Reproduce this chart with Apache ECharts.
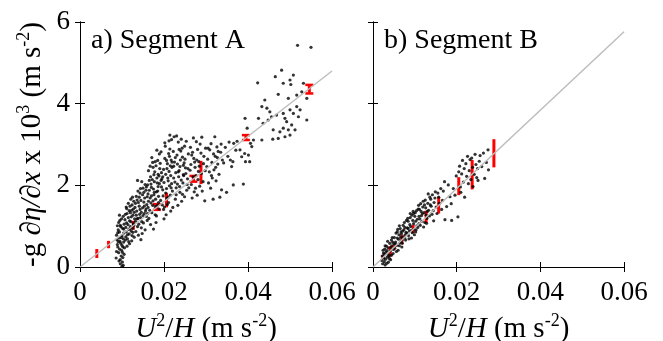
<!DOCTYPE html>
<html><head><meta charset="utf-8">
<script src="https://cdn.jsdelivr.net/npm/echarts@6.0.0/dist/echarts.min.js"></script>
<style>html,body{margin:0;padding:0;background:#fff}#c{width:663px;height:341px}</style>
</head><body><div id="c"></div>
<script>
const xTicks = [0, 0.02, 0.04, 0.06];
const yTicks = [0, 2, 4, 6];
const panelTitles = ['a) Segment A', 'b) Segment B'];

const scatterA = [
[0.0087,0.38],[0.0093,0.71],[0.0101,0.12],[0.0096,1.02],[0.0089,0.55],[0.0104,0.83],[0.0098,0.27],[0.0091,0.91],[0.0102,0.49],[0.0095,0.63],[0.0099,1.18],[0.0086,0.22],[0.0103,0.04],[0.0094,0.44],[0.0100,0.76],[0.0092,1.09],[0.0097,0.58],[0.0105,0.31],[0.0090,0.84],[0.0101,0.95],[0.0088,0.67],[0.0096,0.18],[0.0103,1.24],[0.0094,0.86],[0.0099,0.41],[0.0092,0.35],[0.0104,0.61],[0.0097,0.99],[0.0090,0.49],[0.0102,0.23],[0.0095,1.14],[0.0100,0.53],[0.0087,0.78],[0.0105,1.05],[0.0093,0.15],[0.0098,0.72],[0.0101,0.36],[0.0091,0.62],[0.0104,0.93],[0.0096,0.08],[0.0089,1.01],[0.0103,0.69],[0.0094,1.27],[0.0100,0.02],[0.0106,0.47],
[0.0108,0.66],[0.0115,1.21],[0.0122,0.88],[0.0111,1.43],[0.0127,1.06],[0.0118,0.57],[0.0109,0.97],[0.0124,1.52],[0.0113,0.79],[0.0120,1.33],[0.0129,0.73],[0.0107,1.16],[0.0116,0.92],[0.0126,1.27],[0.0112,0.51],[0.0121,1.11],[0.0128,1.61],[0.0110,0.86],[0.0117,1.38],[0.0123,0.64],[0.0114,1.04],[0.0125,0.95],[0.0119,1.49],[0.0108,1.29],[0.0130,1.18],[0.0113,0.69],[0.0122,1.23],[0.0117,0.81],[0.0127,1.42],[0.0111,1.08],[0.0120,0.99],[0.0124,0.77],[0.0115,1.56],[0.0129,1.34],[0.0109,0.74],[0.0118,1.13],[0.0126,0.85],[0.0112,1.31],[0.0121,1.66],[0.0116,0.62],[0.0128,1.02],[0.0110,1.47],[0.0123,1.39],[0.0119,0.94],[0.0125,1.71],
[0.0132,1.12],[0.0139,1.58],[0.0146,0.96],[0.0152,1.83],[0.0135,1.37],[0.0158,1.24],[0.0141,1.71],[0.0149,1.45],[0.0133,0.87],[0.0155,2.02],[0.0138,1.19],[0.0144,1.92],[0.0151,1.08],[0.0136,1.64],[0.0159,1.53],[0.0142,1.29],[0.0148,0.82],[0.0154,1.69],[0.0131,1.46],[0.0145,1.63],[0.0157,1.88],[0.0137,0.99],[0.0143,1.41],[0.0150,1.26],[0.0134,1.73],[0.0156,1.37],[0.0140,1.05],[0.0147,2.09],[0.0153,1.49],[0.0138,1.86],[0.0160,1.14],[0.0144,1.21],[0.0132,1.56],[0.0149,1.77],[0.0155,0.91],[0.0141,1.49],[0.0136,1.18],[0.0158,1.96],[0.0146,1.34],[0.0152,1.59],[0.0139,0.78],[0.0143,1.81],[0.0157,1.42],[0.0134,1.27],[0.0150,1.93],[0.0147,1.11],[0.0153,1.31],[0.0145,0.67],[0.0160,1.72],[0.0137,2.12],
[0.0162,1.46],[0.0168,2.21],[0.0174,1.62],[0.0181,2.48],[0.0165,1.88],[0.0187,1.73],[0.0171,1.33],[0.0177,2.09],[0.0184,1.51],[0.0163,2.36],[0.0170,1.95],[0.0179,1.28],[0.0186,2.27],[0.0167,1.69],[0.0173,2.56],[0.0182,1.84],[0.0189,2.04],[0.0164,1.19],[0.0176,1.77],[0.0185,2.61],[0.0169,1.57],[0.0178,2.33],[0.0161,2.01],[0.0188,1.42],[0.0172,2.14],[0.0180,1.66],[0.0166,1.39],[0.0183,2.18],[0.0175,1.91],[0.0190,2.41],[0.0168,1.04],[0.0186,1.97],[0.0174,2.44],[0.0162,1.79],[0.0179,1.48],[0.0171,2.68],[0.0187,1.58],[0.0165,2.12],[0.0182,1.25],[0.0177,1.83],[0.0189,2.77],[0.0163,1.61],[0.0184,2.06],[0.0170,1.74],[0.0176,2.26],[0.0181,1.09],[0.0167,2.47],[0.0185,1.86],[0.0173,1.51],[0.0179,2.58],[0.0161,1.31],[0.0188,2.23],[0.0175,0.93],[0.0183,2.86],[0.0169,2.03],
[0.0192,1.63],[0.0199,2.39],[0.0206,1.92],[0.0213,2.71],[0.0195,2.16],[0.0218,2.04],[0.0201,1.47],[0.0208,2.53],[0.0215,1.76],[0.0193,2.82],[0.0204,2.27],[0.0211,1.58],[0.0219,2.44],[0.0197,1.89],[0.0203,2.96],[0.0210,2.11],[0.0216,1.37],[0.0194,2.31],[0.0207,1.68],[0.0214,2.89],[0.0200,2.07],[0.0212,2.34],[0.0198,1.74],[0.0217,2.62],[0.0205,1.28],[0.0191,2.54],[0.0209,2.18],[0.0220,1.86],[0.0196,1.52],[0.0202,2.66],[0.0213,1.99],[0.0218,3.12],[0.0207,2.41],[0.0194,1.96],[0.0216,2.24],[0.0200,1.18],[0.0211,2.78],[0.0204,1.81],[0.0219,2.57],[0.0197,2.21],[0.0214,3.23],[0.0208,1.53],[0.0193,2.12],[0.0215,2.48],[0.0202,3.04],[0.0210,1.71],[0.0206,2.61],[0.0217,1.94],[0.0199,1.41],[0.0212,3.09],
[0.0223,2.18],[0.0231,2.74],[0.0238,1.83],[0.0246,2.49],[0.0227,1.66],[0.0252,2.29],[0.0234,3.06],[0.0241,2.13],[0.0249,1.72],[0.0225,2.57],[0.0236,2.36],[0.0243,2.91],[0.0255,2.02],[0.0229,1.94],[0.0239,2.62],[0.0247,2.24],[0.0222,2.83],[0.0233,1.51],[0.0244,2.69],[0.0251,2.43],[0.0228,2.31],[0.0237,1.97],[0.0258,2.77],[0.0224,3.19],[0.0242,1.61],[0.0249,2.96],[0.0232,2.52],[0.0254,1.88],[0.0226,2.08],[0.0240,2.84],[0.0235,2.21],[0.0257,2.41],[0.0230,3.21],[0.0245,2.06],[0.0221,1.46],[0.0250,2.64],[0.0238,2.46],[0.0253,3.08],[0.0227,2.68],[0.0244,1.78],[0.0234,2.33],[0.0256,2.16],[0.0241,3.13],[0.0229,1.77],[0.0248,2.55],[0.0236,2.88],[0.0259,1.94],[0.0223,2.47],[0.0246,2.26],[0.0232,2.03],
[0.0262,2.37],[0.0268,2.81],[0.0275,1.93],[0.0283,2.58],[0.0265,2.02],[0.0289,2.29],[0.0271,2.66],[0.0279,1.76],[0.0286,3.01],[0.0263,2.93],[0.0274,2.44],[0.0281,2.14],[0.0295,2.71],[0.0267,1.69],[0.0277,3.07],[0.0291,1.86],[0.0269,2.21],[0.0284,2.47],[0.0298,2.36],[0.0273,2.57],[0.0288,2.79],[0.0264,2.51],[0.0280,2.88],[0.0293,2.09],[0.0276,2.24],[0.0297,1.62],[0.0270,3.16],[0.0285,1.98],[0.0290,3.18],[0.0278,2.62],[0.0266,2.74],[0.0294,2.53],[0.0282,2.34],[0.0299,2.91],[0.0272,1.84],
[0.0302,2.46],[0.0309,2.87],[0.0315,2.18],[0.0322,2.71],[0.0306,2.06],[0.0328,2.52],[0.0312,3.02],[0.0319,2.38],[0.0335,2.81],[0.0304,2.64],[0.0317,1.66],[0.0326,2.94],[0.0331,2.27],[0.0308,2.33],[0.0321,3.19],[0.0339,2.62],[0.0314,2.56],[0.0324,2.11],[0.0333,1.71],[0.0311,1.93],[0.0329,2.83],[0.0318,2.77],[0.0337,1.89],[0.0305,2.91],[0.0323,2.44],[0.0336,3.01],[0.0313,2.24],[0.0327,2.68],
[0.0342,2.55],[0.0346,2.93],[0.0349,1.83],[0.0352,2.71],[0.0355,3.06],[0.0358,2.62],[0.0361,2.46],[0.0364,2.58],[0.0366,3.03],[0.0365,2.01],[0.0371,2.86],[0.0374,3.08],[0.0381,2.87],[0.0385,2.70],[0.0389,2.03],[0.0392,2.78],[0.0394,2.58],[0.0393,3.64],[0.0398,3.40],[0.0401,2.74],[0.0404,2.58],[0.0406,3.03],[0.0409,2.95],[0.0413,3.11],
[0.0518,5.43],[0.0550,5.38],[0.0480,4.82],[0.0465,4.66],[0.0508,4.70],[0.0500,4.58],[0.0484,4.50],[0.0502,4.47],[0.0423,4.51],[0.0472,4.23],[0.0440,4.09],[0.0496,4.13],[0.0516,4.21],[0.0528,4.29],[0.0532,4.50],[0.0540,4.13],[0.0433,3.93],[0.0445,3.89],[0.0452,3.80],[0.0456,3.68],[0.0468,3.72],[0.0484,3.76],[0.0488,3.64],[0.0492,3.56],[0.0500,3.85],[0.0508,3.76],[0.0516,3.93],[0.0524,3.85],[0.0520,3.68],[0.0540,3.60],[0.0504,3.48],[0.0496,3.36],[0.0484,3.40],[0.0476,3.31],[0.0460,3.36],[0.0472,3.15],[0.0459,3.13],[0.0488,3.19],[0.0500,3.23],[0.0512,3.36],[0.0448,3.60],[0.0436,3.52],[0.0425,3.64],[0.0433,3.11]
];

const scatterB = [
[0.0021,0.16],[0.0027,0.31],[0.0033,0.09],[0.0024,0.41],[0.0038,0.27],[0.0029,0.05],[0.0045,0.52],[0.0031,0.36],[0.0042,0.18],[0.0026,0.22],[0.0036,0.47],[0.0048,0.33],[0.0023,0.08],[0.0040,0.58],[0.0034,0.24],[0.0047,0.61],[0.0028,0.44],[0.0044,0.29],[0.0037,0.12],[0.0025,0.34],[0.0049,0.43],[0.0032,0.51],[0.0041,0.39],[0.0030,0.19],[0.0046,0.72],[0.0035,0.63],[0.0043,0.48],[0.0022,0.27],[0.0039,0.21],[0.0050,0.57],[0.0027,0.13],[0.0033,0.40],[0.0044,0.66],[0.0036,0.31],[0.0029,0.52],
[0.0052,0.46],[0.0058,0.71],[0.0063,0.52],[0.0071,0.88],[0.0055,0.83],[0.0067,0.62],[0.0076,0.97],[0.0060,0.41],[0.0073,0.74],[0.0054,0.61],[0.0079,0.85],[0.0065,0.94],[0.0057,0.53],[0.0070,0.67],[0.0062,0.79],[0.0075,1.09],[0.0051,0.72],[0.0068,0.81],[0.0078,0.66],[0.0059,0.92],[0.0064,0.59],[0.0072,1.02],[0.0056,0.38],[0.0077,0.79],[0.0061,0.68],[0.0069,0.49],[0.0053,0.57],[0.0074,0.91],[0.0066,0.73],[0.0080,1.14],[0.0058,0.86],[0.0070,0.58],[0.0063,1.01],[0.0076,0.71],[0.0067,0.86],
[0.0082,0.96],[0.0089,1.21],[0.0094,0.84],[0.0101,1.33],[0.0085,0.77],[0.0097,1.06],[0.0106,1.17],[0.0090,0.99],[0.0103,0.91],[0.0084,1.12],[0.0108,1.42],[0.0093,1.27],[0.0087,0.88],[0.0099,0.79],[0.0105,1.01],[0.0081,0.83],[0.0096,1.36],[0.0110,1.24],[0.0088,1.04],[0.0102,1.12],[0.0092,0.71],[0.0107,0.97],[0.0083,1.19],[0.0098,0.93],[0.0109,1.51],[0.0086,0.69],[0.0100,1.24],[0.0095,1.14],[0.0104,1.38],[0.0091,0.89],[0.0110,1.06],[0.0084,0.94],[0.0097,1.31],[0.0102,0.86],[0.0089,1.31],
[0.0112,1.18],[0.0119,1.47],[0.0124,1.09],[0.0131,1.56],[0.0115,1.36],[0.0127,1.27],[0.0136,1.71],[0.0121,0.98],[0.0133,1.39],[0.0114,1.55],[0.0139,1.49],[0.0125,1.64],[0.0117,1.12],[0.0129,1.19],[0.0142,1.77],[0.0111,1.41],[0.0135,1.25],[0.0146,1.58],[0.0122,1.33],[0.0138,1.66],[0.0126,1.45],[0.0144,1.38],[0.0116,1.26],[0.0132,1.79],[0.0148,1.69],[0.0120,1.61],[0.0128,1.07],[0.0141,1.29],[0.0113,1.02],[0.0137,1.52],[0.0123,1.52],[0.0149,1.84],[0.0130,1.36],[0.0145,1.13],[0.0118,1.31],
[0.0151,1.47],[0.0155,1.81],[0.0159,1.56],[0.0162,1.92],[0.0166,1.63],[0.0153,1.31],[0.0171,2.09],[0.0172,1.16],[0.0157,1.71],[0.0176,1.48],[0.0180,2.01],[0.0164,1.41],[0.0184,1.72],[0.0187,1.55],[0.0188,1.14],[0.0168,1.86],[0.0192,1.92],[0.0196,1.76],[0.0199,2.23],[0.0203,1.23],
[0.0205,2.33],[0.0207,2.47],[0.0209,1.96],[0.0212,2.28],[0.0210,1.83],[0.0214,2.61],[0.0216,2.08],[0.0218,2.41],[0.0219,1.71],[0.0222,2.53],[0.0224,2.22],[0.0226,2.71],[0.0228,2.04],[0.0230,2.36],[0.0232,2.63],[0.0234,2.14],[0.0236,2.67],[0.0238,2.44],[0.0239,1.97],[0.0242,2.27],[0.0244,2.76],[0.0246,2.51],[0.0248,2.19],[0.0250,2.41],[0.0251,2.12],[0.0254,2.59],[0.0256,2.73],[0.0260,2.46],[0.0264,2.79],[0.0267,2.17],[0.0271,2.56],[0.0275,2.87],[0.0276,2.38]
];

// error bars: [x, low, high]
const errAPlain = [[0.0040,0.22,0.44],[0.0068,0.46,0.64],[0.0127,0.91,1.13],[0.0206,1.46,1.82],[0.0288,2.03,2.60]];
const errACapped = [[0.0183,1.40,1.54],[0.0270,2.09,2.23],[0.0395,3.11,3.23],[0.0546,4.25,4.46]];
const errBPlain = [[0.0024,0.19,0.29],[0.0041,0.25,0.51],[0.0050,0.43,0.54],[0.0069,0.56,0.78],[0.0096,0.83,1.03],[0.0127,1.08,1.38],[0.0157,1.31,1.72],[0.0205,1.76,2.20],[0.0237,1.90,2.62],[0.0289,2.44,3.13]];

const fitA = [[0, 0], [0.06, 4.8]];
const fitB = [[0, 0], [0.06, 5.76]];

const FONT = "'Liberation Serif', 'Times New Roman', serif";
const rich = {
  n: {fontFamily: FONT, fontSize: 29, color: '#000', verticalAlign: 'bottom', lineHeight: 32},
  i: {fontFamily: FONT, fontSize: 29, color: '#000', fontStyle: 'italic', verticalAlign: 'bottom', lineHeight: 32},
  s: {fontFamily: FONT, fontSize: 18, color: '#000', verticalAlign: 'top', lineHeight: 32}
};
const xName = '{i|U}{s|2}{n|/}{i|H}{n| (m s}{s|-2}{n|)}';
const yName = '{n|-g }{i|∂η/∂x}{n| x 10}{s|3}{n| (m s}{s|-2}{n|)}';

function errRender(cap) {
  return function (params, api) {
    const x = api.value(0), lo = api.value(1), hi = api.value(2);
    const p1 = api.coord([x, lo]), p2 = api.coord([x, hi]);
    const ch = [{type: 'line', shape: {x1: p1[0], y1: p1[1], x2: p2[0], y2: p2[1]}, style: {stroke: '#ff0000', lineWidth: 3}}];
    if (cap) {
      ch.push({type: 'line', shape: {x1: p1[0]-4, y1: p1[1], x2: p1[0]+4, y2: p1[1]}, style: {stroke:'#ff0000', lineWidth: 2.5}});
      ch.push({type: 'line', shape: {x1: p2[0]-4, y1: p2[1], x2: p2[0]+4, y2: p2[1]}, style: {stroke:'#ff0000', lineWidth: 2.5}});
    }
    return {type: 'group', children: ch};
  };
}

const axisLine = {show: true, lineStyle: {color: '#000', width: 1}};
const tick = {show: true, inside: true, length: 5, lineStyle: {color: '#000'}};
function xAx(g, pos, labels) {
  return {gridIndex: g, type: 'value', position: pos, min: xTicks[0], max: xTicks[xTicks.length-1], interval: xTicks[1]-xTicks[0],
    axisLine, axisTick: tick, splitLine: {show: false},
    axisLabel: {show: labels, margin: 12, color: '#000', fontFamily: FONT, fontSize: 27, formatter: v => v === 0 ? '0' : v.toFixed(2)},
    name: labels ? xName : '', nameLocation: 'middle', nameGap: 45, nameTextStyle: {rich}};
}
function yAx(g, pos, labels, named) {
  return {gridIndex: g, type: 'value', position: pos, min: yTicks[0], max: yTicks[yTicks.length-1], interval: yTicks[1]-yTicks[0],
    axisLine, axisTick: tick, splitLine: {show: false},
    axisLabel: {show: labels, margin: 10, color: '#000', fontFamily: FONT, fontSize: 27},
    name: named ? yName : '', nameLocation: 'middle', nameGap: 33, nameTextStyle: {rich}};
}

const chart = echarts.init(document.getElementById('c'), null, {renderer: 'canvas'});
chart.setOption({
  animation: false,
  backgroundColor: '#fff',
  title: [
    {text: panelTitles[0], left: 86, top: 22, textStyle: {fontFamily: FONT, fontSize: 28, fontWeight: 'normal', color: '#000'}},
    {text: panelTitles[1], left: 379, top: 22, textStyle: {fontFamily: FONT, fontSize: 28, fontWeight: 'normal', color: '#000'}}
  ],
  grid: [
    {left: 80, top: 22, width: 252, height: 245, outerBoundsMode: 'none', containLabel: false},
    {left: 373, top: 22, width: 251, height: 245, outerBoundsMode: 'none', containLabel: false}
  ],
  xAxis: [xAx(0, 'bottom', true), xAx(0, 'top', false), xAx(1, 'bottom', true), xAx(1, 'top', false)],
  yAxis: [yAx(0, 'left', true, true), yAx(0, 'right', false, false), yAx(1, 'left', false, false), yAx(1, 'right', false, false)],
  series: [
    {type: 'scatter', xAxisIndex: 0, yAxisIndex: 0, data: scatterA, symbolSize: 3.2, itemStyle: {color: '#000'}},
    {type: 'scatter', xAxisIndex: 2, yAxisIndex: 2, data: scatterB, symbolSize: 3.2, itemStyle: {color: '#000'}},
    {type: 'line', xAxisIndex: 0, yAxisIndex: 0, data: fitA, symbol: 'none', lineStyle: {color: '#bdbdbd', width: 1.5}},
    {type: 'line', xAxisIndex: 2, yAxisIndex: 2, data: fitB, symbol: 'none', lineStyle: {color: '#bdbdbd', width: 1.5}},
    {type: 'custom', xAxisIndex: 0, yAxisIndex: 0, data: errAPlain, renderItem: errRender(false)},
    {type: 'custom', xAxisIndex: 0, yAxisIndex: 0, data: errACapped, renderItem: errRender(true)},
    {type: 'custom', xAxisIndex: 2, yAxisIndex: 2, data: errBPlain, renderItem: errRender(false)}
  ]
});
</script></body></html>
